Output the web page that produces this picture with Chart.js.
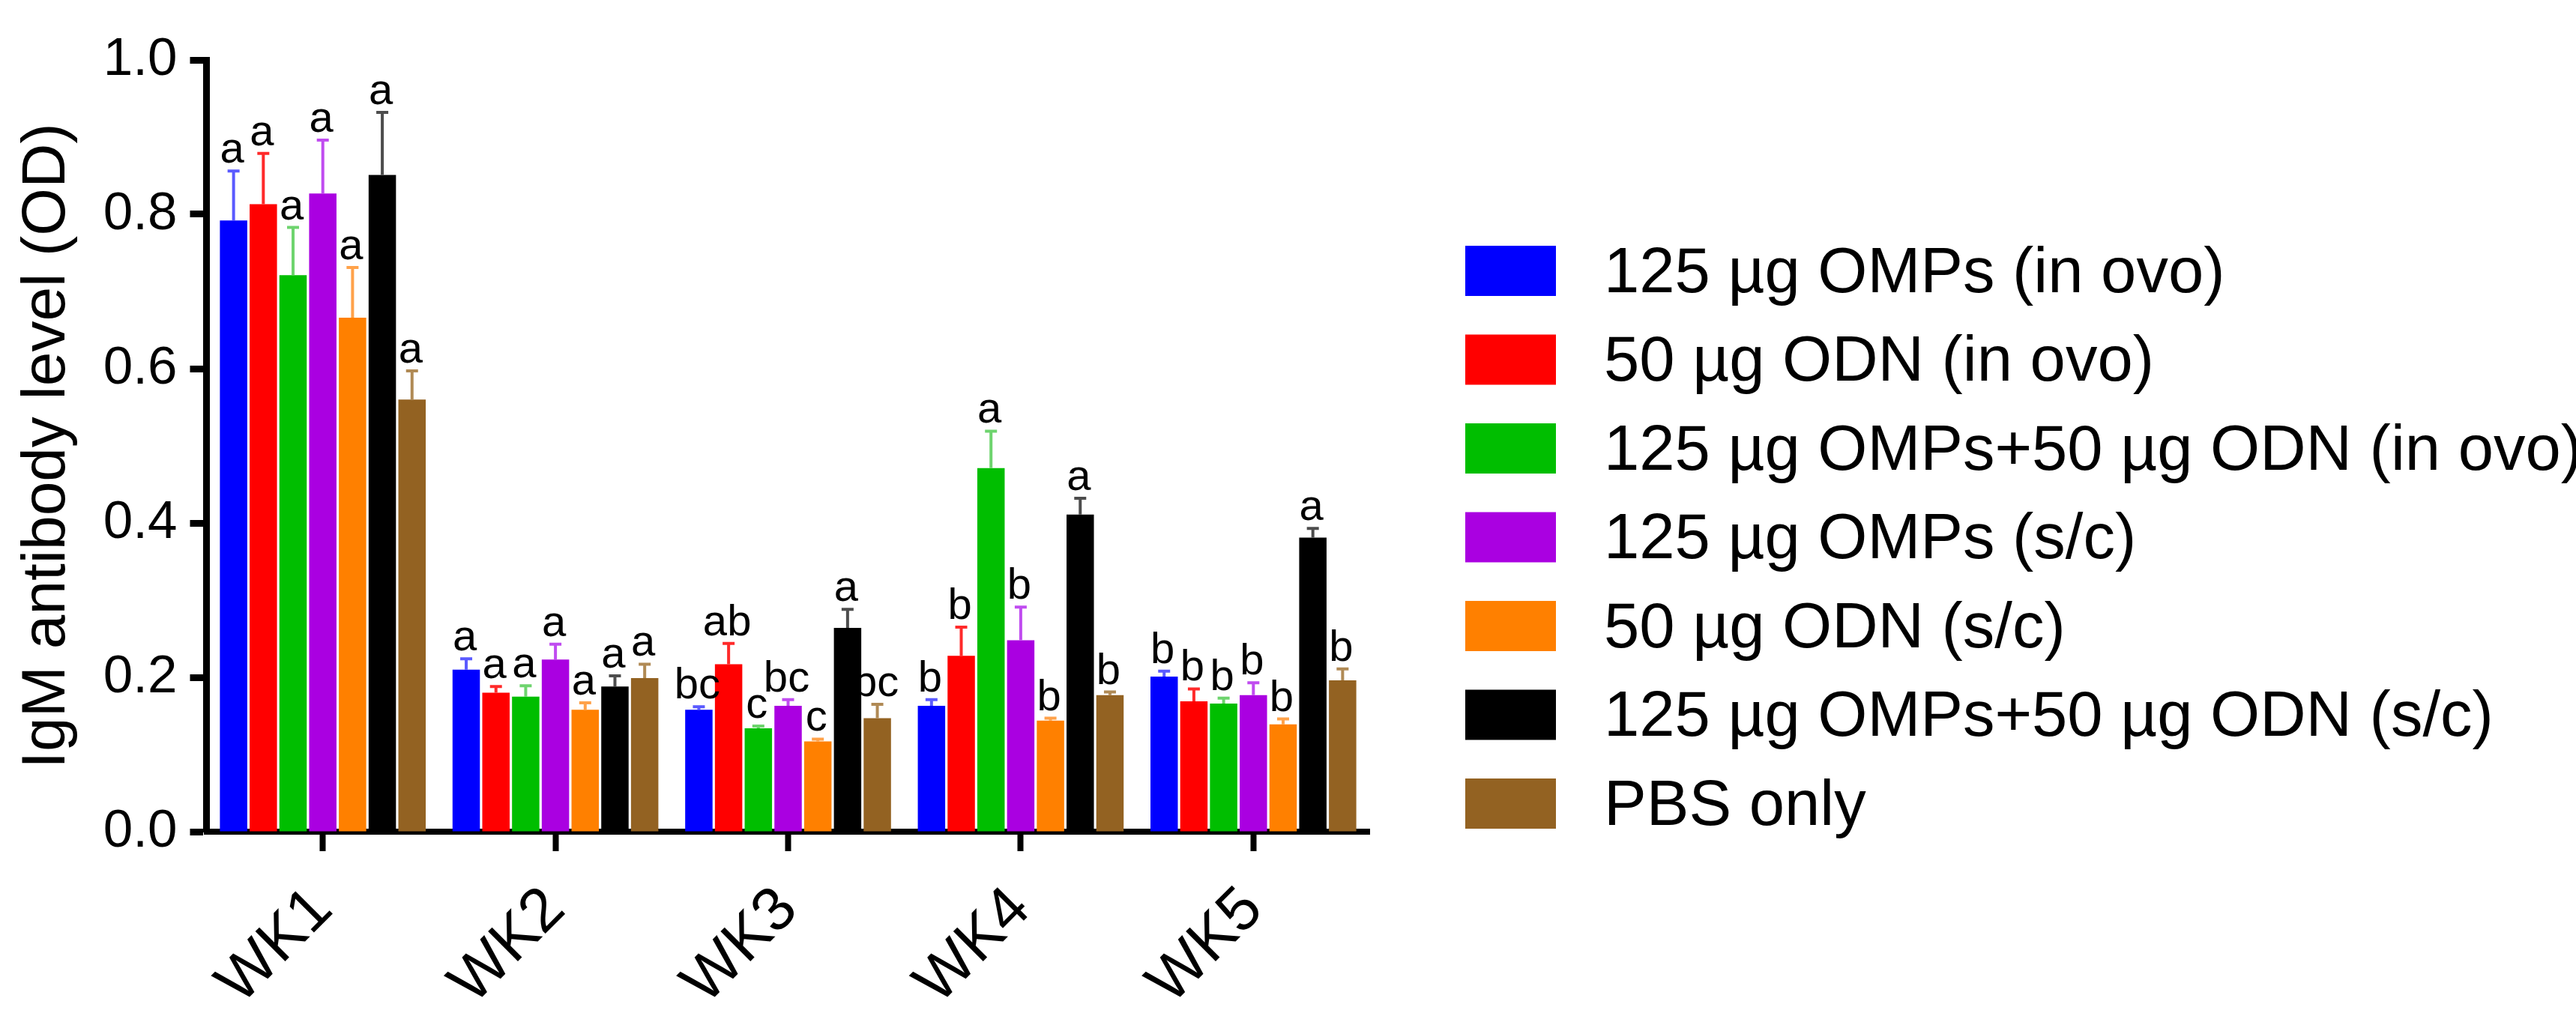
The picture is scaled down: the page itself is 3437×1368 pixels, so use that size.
<!DOCTYPE html>
<html>
<head>
<meta charset="utf-8">
<script src="https://cdn.jsdelivr.net/npm/chart.js@4.4.1/dist/chart.umd.min.js"></script>
<style>
  html, body { margin: 0; padding: 0; background: #fff; }
  canvas { display: block; }
</style>
</head>
<body>
<canvas id="igmChart" width="3437" height="1368" style="width:3437px;height:1368px"></canvas>
<script>
const weeks = ['WK1', 'WK2', 'WK3', 'WK4', 'WK5'];
const groups = [
  '125 µg OMPs (in ovo)',
  '50 µg ODN (in ovo)',
  '125 µg OMPs+50 µg ODN (in ovo)',
  '125 µg OMPs (s/c)',
  '50 µg ODN (s/c)',
  '125 µg OMPs+50 µg ODN (s/c)',
  'PBS only'
];

// mean OD per group, WK1..WK5
const ompsInOvo  = [0.792, 0.210, 0.158, 0.163, 0.201];
const odnInOvo   = [0.813, 0.180, 0.217, 0.228, 0.169];
const comboInOvo = [0.721, 0.175, 0.134, 0.471, 0.166];
const ompsSc     = [0.827, 0.223, 0.163, 0.248, 0.177];
const odnSc      = [0.666, 0.158, 0.117, 0.144, 0.139];
const comboSc    = [0.851, 0.188, 0.264, 0.411, 0.381];
const pbsOnly    = [0.560, 0.199, 0.147, 0.177, 0.196];

// upper error (SEM)
const ompsInOvoErr  = [0.064, 0.014, 0.004, 0.008, 0.007];
const odnInOvoErr   = [0.066, 0.008, 0.027, 0.037, 0.016];
const comboInOvoErr = [0.062, 0.014, 0.003, 0.048, 0.007];
const ompsScErr     = [0.069, 0.020, 0.008, 0.043, 0.016];
const odnScErr      = [0.065, 0.009, 0.003, 0.003, 0.007];
const comboScErr    = [0.081, 0.014, 0.024, 0.021, 0.012];
const pbsOnlyErr    = [0.037, 0.018, 0.018, 0.004, 0.015];

// significance letters
const ompsInOvoSig  = ['a', 'a', 'bc', 'b', 'b'];
const odnInOvoSig   = ['a', 'a', 'ab', 'b', 'b'];
const comboInOvoSig = ['a', 'a', 'c', 'a', 'b'];
const ompsScSig     = ['a', 'a', 'bc', 'b', 'b'];
const odnScSig      = ['a', 'a', 'c', 'b', 'b'];
const comboScSig    = ['a', 'a', 'a', 'a', 'a'];
const pbsOnlySig    = ['a', 'a', 'bc', 'b', 'b'];

const yTicks = [0.0, 0.2, 0.4, 0.6, 0.8, 1.0];

const barColors = ['#0000FF', '#FF0000', '#00BE00', '#AA00E1', '#FF8000', '#000000', '#936222'];
const errColors = ['#5A5AFF', '#FF2A2A', '#6ED46E', '#C04CF0', '#FFA24A', '#4D4D4D', '#B08A55'];

const means = [ompsInOvo, odnInOvo, comboInOvo, ompsSc, odnSc, comboSc, pbsOnly];
const errs = [ompsInOvoErr, odnInOvoErr, comboInOvoErr, ompsScErr, odnScErr, comboScErr, pbsOnlyErr];
const sigs = [ompsInOvoSig, odnInOvoSig, comboInOvoSig, ompsScSig, odnScSig, comboScSig, pbsOnlySig];

const FONT = "'Liberation Sans', Arial, Helvetica, sans-serif";

// upper error bars + letters above them
const errorBars = {
  id: 'errorBars',
  afterDatasetsDraw(chart) {
    const ctx = chart.ctx;
    const y = chart.scales.y;
    ctx.save();
    chart.data.datasets.forEach((ds, i) => {
      const meta = chart.getDatasetMeta(i);
      meta.data.forEach((bar, j) => {
        const top = y.getPixelForValue(means[i][j] + errs[i][j]);
        ctx.strokeStyle = errColors[i];
        ctx.lineWidth = 4;
        ctx.beginPath();
        ctx.moveTo(bar.x, bar.y);
        ctx.lineTo(bar.x, top);
        ctx.moveTo(bar.x - 8, top);
        ctx.lineTo(bar.x + 8, top);
        ctx.stroke();

        ctx.fillStyle = '#000';
        ctx.font = '58px ' + FONT;
        ctx.textAlign = 'center';
        ctx.textBaseline = 'alphabetic';
        ctx.fillText(sigs[i][j], bar.x - 2, top - 11);
      });
    });
    ctx.restore();
  }
};

// legend at right, one row per group
const sideLegend = {
  id: 'sideLegend',
  afterDraw(chart) {
    const ctx = chart.ctx;
    ctx.save();
    ctx.font = '85px ' + FONT;
    ctx.textAlign = 'left';
    ctx.textBaseline = 'alphabetic';
    chart.data.datasets.forEach((ds, i) => {
      const yc = 361.5 + i * 118.5;
      ctx.fillStyle = ds.backgroundColor;
      ctx.fillRect(1955, yc - 33.5, 121, 67);
      ctx.fillStyle = '#000';
      ctx.fillText(ds.label, 2140, yc + 28);
    });
    ctx.restore();
  }
};

new Chart(document.getElementById('igmChart'), {
  type: 'bar',
  data: {
    labels: weeks,
    datasets: groups.map((g, i) => ({
      label: g,
      data: means[i],
      backgroundColor: barColors[i],
      borderWidth: 0,
      categoryPercentage: 0.895,
      barPercentage: 0.92
    }))
  },
  options: {
    responsive: false,
    devicePixelRatio: 1,
    animation: false,
    layout: { padding: { top: 80, right: 1609.5, bottom: 0, left: 0 } },
    plugins: {
      legend: { display: false },
      tooltip: { enabled: false }
    },
    scales: {
      x: {
        z: 1,
        offset: true,
        afterFit: s => { s.height = 258; },
        grid: { offset: false, drawOnChartArea: false, tickLength: 26, tickWidth: 8, tickColor: '#000' },
        border: { display: true, width: 8, color: '#000' },
        ticks: {
          autoSkip: false,
          minRotation: 45,
          maxRotation: 45,
          padding: 30,
          color: '#000',
          font: { family: FONT, size: 82 }
        }
      },
      y: {
        z: 1,
        min: 0,
        max: 1,
        afterFit: s => { s.width = 275.5; },
        afterBuildTicks: s => { s.ticks = yTicks.map(v => ({ value: v })); },
        grid: { drawOnChartArea: false, tickLength: 22, tickWidth: 9, tickColor: '#000' },
        border: { display: true, width: 9, color: '#000' },
        ticks: {
          padding: 17,
          color: '#000',
          font: { family: FONT, size: 71 },
          callback: v => Number(v).toFixed(1)
        },
        title: {
          display: true,
          text: 'IgM antibody level (OD)',
          color: '#000',
          font: { family: FONT, size: 82 },
          padding: { top: 14, bottom: 0 }
        }
      }
    }
  },
  plugins: [errorBars, sideLegend]
});
</script>
</body>
</html>
